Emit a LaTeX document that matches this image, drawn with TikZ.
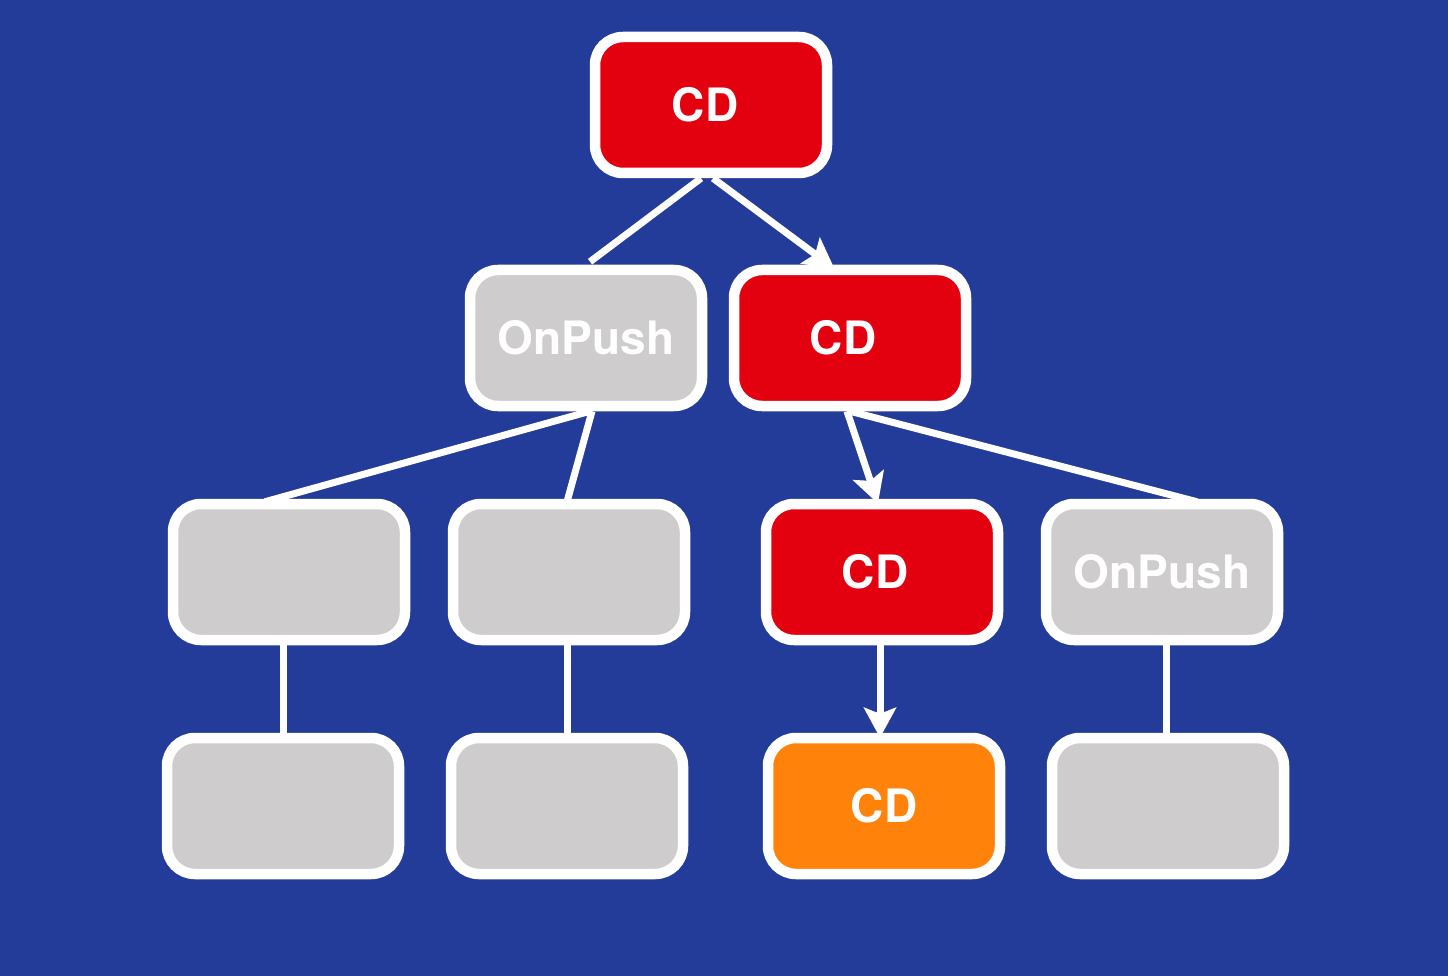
\documentclass[tikz,border=0pt]{standalone}
\usepackage{fontspec}
\setmainfont{TeX Gyre Heros}
\usetikzlibrary{arrows.meta}
\definecolor{bg}{HTML}{233C9A}
\definecolor{cdred}{HTML}{E3000F}
\definecolor{grayfill}{HTML}{CECCCC}
\definecolor{cdorange}{HTML}{FF820A}
\tikzset{
  box/.style={draw=white, line width=10.5pt, rounded corners=28pt, minimum width=232pt, minimum height=136pt, inner sep=0pt, text=white, font=\fontsize{46}{46}\selectfont\bfseries},
  redbox/.style={box, fill=cdred},
  graybox/.style={box, fill=grayfill},
  orangebox/.style={box, fill=cdorange},
  link/.style={draw=white, line width=7pt},
  arrowlink/.style={link, -{Stealth[length=30pt,width=32pt,inset=6pt]}, shorten >=-3pt}
}
\begin{document}
\begin{tikzpicture}[x=1pt,y=-1pt]
\useasboundingbox (0,0) rectangle (1448,976);
\fill[bg] (0,0) rectangle (1448,976);
% row 1
\node[redbox] (top) at (711,105) {\hspace*{-12pt}CD};
% row 2
\node[graybox] (op1) at (586,338) {OnPush};
\node[redbox] (cd2) at (850,338) {\hspace*{-14pt}CD};
% row 3
\node[graybox] (r3a) at (289,572) {};
\node[graybox] (r3b) at (569,572) {};
\node[redbox] (cd3) at (882,572) {\hspace*{-14pt}CD};
\node[graybox] (op2) at (1162,572) {OnPush};
% row 4
\node[graybox] (r4a) at (283,806) {};
\node[graybox] (r4b) at (567,806) {};
\node[orangebox] (cd4) at (884,806) {CD};
\node[graybox] (r4d) at (1168,806) {};
% connectors
\draw[link] ([xshift=-10pt]top.south) -- ([xshift=4pt,yshift=3pt]op1.north);
\draw[arrowlink] ([xshift=2pt]top.south) -- ([xshift=-18pt,yshift=-2pt]cd2.north);
\draw[link] ([xshift=4pt]op1.south) -- ([xshift=-24pt,yshift=-3pt]r3a.north);
\draw[link] ([xshift=6pt]op1.south) -- ([xshift=-2pt,yshift=-3pt]r3b.north);
\draw[arrowlink] ([xshift=-3pt]cd2.south) -- ([xshift=-5pt,yshift=-2pt]cd3.north);
\draw[link] ([xshift=0pt]cd2.south) -- ([xshift=35pt,yshift=-3pt]op2.north);
\draw[link] ([xshift=-6pt]r3a.south) -- ([xshift=-6pt]r3a.south |- r4a.north);
\draw[link] ([xshift=-2pt]r3b.south) -- ([xshift=-2pt]r3b.south |- r4b.north);
\draw[arrowlink] ([xshift=-2pt]cd3.south) -- ([xshift=-2pt,yshift=-2pt]cd3.south |- cd4.north);
\draw[link] ([xshift=4pt]op2.south) -- ([xshift=4pt]op2.south |- r4d.north);
\end{tikzpicture}
\end{document}
